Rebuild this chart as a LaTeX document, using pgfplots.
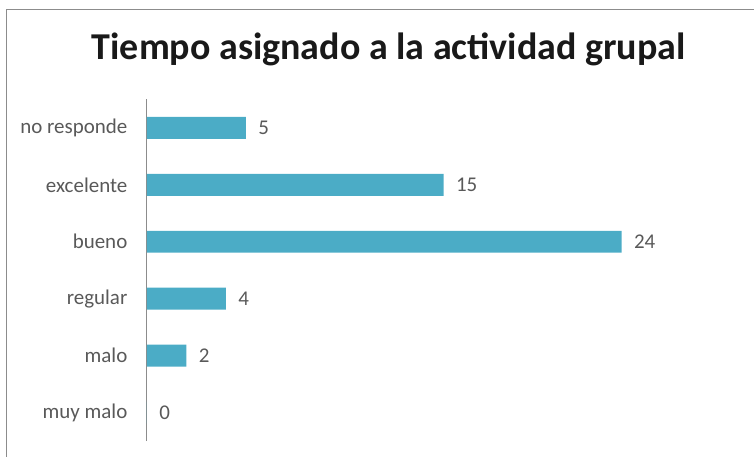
\documentclass[border=0pt]{standalone}
\usepackage{pgfplots}
\pgfplotsset{compat=1.18}
\usepackage{fontspec}
\setmainfont{Carlito}
\definecolor{barc}{HTML}{4BACC6}
\definecolor{txt}{HTML}{595959}
\definecolor{frame}{HTML}{8C8C8C}
\begin{document}
\begin{tikzpicture}
\path (0pt,0pt) rectangle (755pt,457pt);
\draw[frame, line width=1.5pt] (6.5pt,0pt) -- (6.5pt,447.5pt) -- (755pt,447.5pt);
\node[font=\bfseries\fontsize{38}{44}\selectfont, text=black!90, anchor=base] at (389pt,397pt) {Tiempo asignado a la actividad grupal};
\begin{axis}[
  at={(147pt,15.5pt)}, anchor=south west,
  scale only axis, width=495pt, height=342pt,
  xmin=0, xmax=25, ymin=-0.5, ymax=5.5,
  xbar, bar width=22pt,
  hide x axis,
  axis y line*=left,
  y axis line style={draw=frame, line width=0.8pt, -},
  ytick={0,1,2,3,4,5},
  yticklabels={muy malo, malo, regular, bueno, excelente, no responde},
  major tick length=0pt,
  yticklabel style={font=\fontsize{21}{25}\selectfont, text=txt, xshift=-16pt},
  nodes near coords,
  nodes near coords style={font=\fontsize{21}{25}\selectfont, text=txt, anchor=west, xshift=9pt},
  point meta=explicit symbolic,
  clip=false,
]
\addplot[fill=barc, draw=none] coordinates {
  (0,0) [0]
  (2,1) [2]
  (4,2) [4]
  (24,3) [24]
  (15,4) [15]
  (5,5) [5]
};
\end{axis}
\end{tikzpicture}
\end{document}
